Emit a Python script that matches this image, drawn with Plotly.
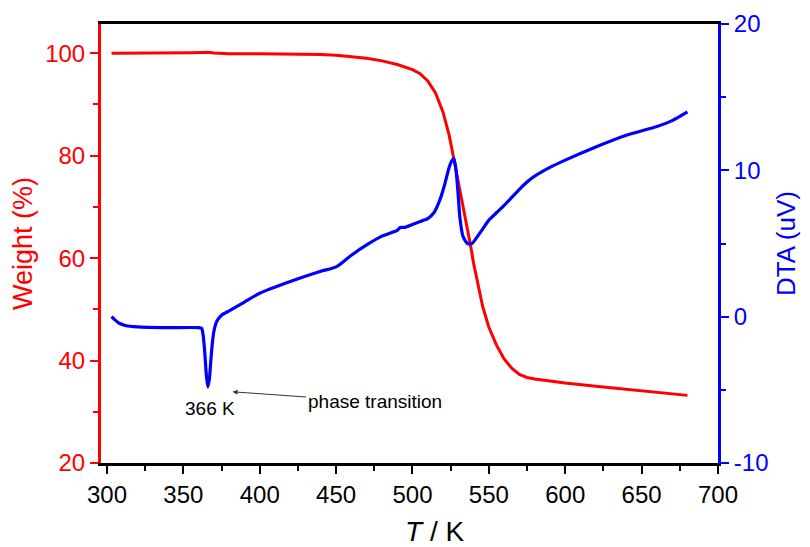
import plotly.graph_objects as go

# Weight (TGA) curve, red, left axis
tga_T = [303, 320, 340, 355, 362, 366, 370, 380, 400, 420, 440, 450, 460, 470, 480, 490,
         500, 505, 510, 515, 520, 524, 527, 530, 533, 536, 538, 540, 543, 546, 550, 555,
         560, 565, 570, 575, 580, 590, 600, 620, 640, 660, 680]
tga_W = [100.0, 100.0, 100.05, 100.1, 100.15, 100.2, 100.05, 99.9, 99.9, 99.85, 99.75, 99.6,
         99.3, 99.0, 98.5, 97.8, 96.8, 96.0, 94.6, 92.3, 88.5, 84.0, 79.5, 75.0, 70.5, 66.0,
         62.5, 59.0, 54.5, 50.5, 46.5, 43.0, 40.3, 38.5, 37.3, 36.7, 36.4, 36.0, 35.6, 35.0,
         34.4, 33.8, 33.2]

# DTA curve, blue, right axis
dta_T = [303, 305, 308, 312, 320, 340, 360, 362, 363, 364, 365, 366, 367, 368, 369, 370,
         372, 375, 380, 390, 400, 420, 440, 450, 460, 470, 480, 490, 492, 495, 500, 505,
         510, 514, 518, 521, 524, 526, 527, 528, 529, 530, 531, 533, 536, 539, 542, 546,
         550, 555, 560, 570, 575, 580, 590, 600, 620, 640, 660, 670, 680]
dta_V = [0.0, -0.2, -0.45, -0.6, -0.7, -0.75, -0.75, -0.8, -1.3, -2.4, -3.9, -4.8, -4.3, -3.0,
         -1.8, -1.0, -0.3, 0.1, 0.4, 1.0, 1.6, 2.4, 3.1, 3.4, 4.2, 4.9, 5.5, 5.9, 6.1, 6.1, 6.3,
         6.5, 6.7, 7.1, 8.0, 9.0, 10.2, 10.7, 10.8, 10.4, 9.5, 8.2, 6.8, 5.5, 5.0, 5.0, 5.4,
         6.0, 6.6, 7.1, 7.6, 8.7, 9.2, 9.6, 10.2, 10.7, 11.6, 12.4, 13.0, 13.4, 14.0]

x_ticks = [300, 350, 400, 450, 500, 550, 600, 650, 700]
w_ticks = [20, 40, 60, 80, 100]
d_ticks = [-10, 0, 10, 20]

FONT = "Arial, Liberation Sans, sans-serif"
RED = "#ff0000"
BLUE = "#0000ff"

# page body has an 8px default margin; the figure is sized to fit the window
W, H = 802, 539

fig = go.Figure()
fig.add_trace(go.Scatter(x=tga_T, y=tga_W, mode="lines", line=dict(color=RED, width=3),
                         yaxis="y", showlegend=False))
fig.add_trace(go.Scatter(x=dta_T, y=dta_V, mode="lines",
                         line=dict(color=BLUE, width=3.2, shape="spline", smoothing=0.6),
                         yaxis="y2", showlegend=False))

fig.add_annotation(x=367.2, y=30.7, xref="x", yref="y", text="366 K", showarrow=False,
                   font=dict(family=FONT, size=19, color="black"))
fig.add_annotation(x=382.2, y=33.9, xref="x", yref="y", text="phase transition",
                   showarrow=True, ax=142, ay=10, arrowhead=2, arrowsize=1, arrowwidth=1,
                   arrowcolor="#333333", font=dict(family=FONT, size=19, color="black"))
# x-axis title, sits slightly right of the axis centre
fig.add_annotation(x=0.5405, y=-0.155, xref="paper", yref="paper",
                   text="<i>T</i> / K", showarrow=False, xanchor="center", yanchor="middle",
                   font=dict(family=FONT, size=28, color="black"))

fig.update_layout(
    width=W, height=H,
    margin=dict(l=93, r=92, t=16, b=84, autoexpand=False),
    paper_bgcolor="white", plot_bgcolor="white",
    font=dict(family=FONT),
    xaxis=dict(range=[296.1, 700], tickvals=x_ticks, ticktext=[str(v) for v in x_ticks],
               automargin=False,
               showline=True, linecolor="black", linewidth=3, mirror=True,
               ticks="outside", ticklen=8, tickwidth=2, tickcolor="black",
               minor=dict(dtick=25, tick0=300, ticks="outside", ticklen=5, tickwidth=2, tickcolor="black"),
               showgrid=False, zeroline=False,
               tickfont=dict(family=FONT, size=24, color="black")),
    yaxis=dict(range=[20, 105.7], tickvals=w_ticks, ticktext=[str(v) for v in w_ticks],
               automargin=False,
               showline=True, linecolor=RED, linewidth=3,
               ticks="outside", ticklen=8, tickwidth=2, tickcolor=RED,
               minor=dict(dtick=10, tick0=20, ticks="outside", ticklen=5, tickwidth=2, tickcolor=RED),
               showgrid=False, zeroline=False,
               tickfont=dict(family=FONT, size=24, color=RED),
               title=dict(text="Weight (%)", font=dict(family=FONT, size=27, color=RED), standoff=8)),
    yaxis2=dict(range=[-10, 20], tickvals=d_ticks, ticktext=[str(v) for v in d_ticks],
                overlaying="y", side="right", anchor="x", automargin=False,
                showline=True, linecolor=BLUE, linewidth=3,
                ticks="outside", ticklen=8, tickwidth=2, tickcolor=BLUE,
                minor=dict(dtick=5, tick0=-10, ticks="outside", ticklen=5, tickwidth=2, tickcolor=BLUE),
                showgrid=False, zeroline=False,
                tickfont=dict(family=FONT, size=24, color=BLUE),
                title=dict(text="DTA (uV)", font=dict(family=FONT, size=26, color=BLUE), standoff=10)),
)

fig.write_html("out.html")
